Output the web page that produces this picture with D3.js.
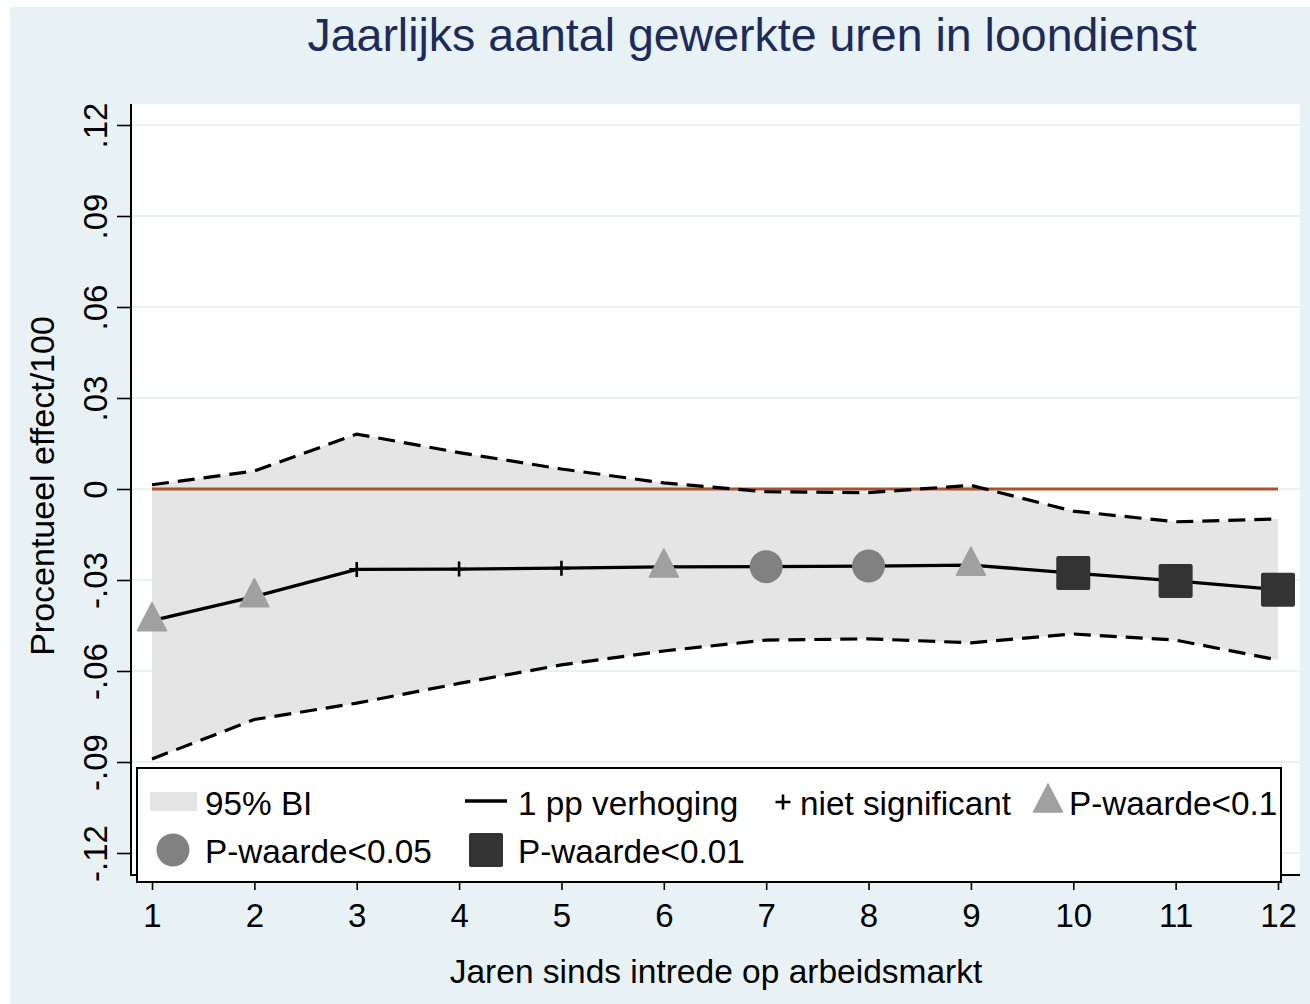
<!DOCTYPE html>
<html>
<head>
<meta charset="utf-8">
<script src="https://cdn.jsdelivr.net/npm/d3@7"></script>
<style>
  body { margin: 0; background: #ffffff; }
  svg { display: block; font-family: "Liberation Sans", Arial, sans-serif; }
</style>
</head>
<body>
<svg id="chart" width="1310" height="1004"></svg>
<script>
// years since entering the labour market
var years = [1, 2, 3, 4, 5, 6, 7, 8, 9, 10, 11, 12]
// point estimate of 1 pp increase
var estimate = [-0.0434, -0.0355, -0.0265, -0.0264, -0.0261, -0.0257, -0.0256, -0.0254, -0.0251, -0.0277, -0.0303, -0.0332]
// 95% confidence band
var upper = [0.0014, 0.0059, 0.0181, 0.0120, 0.0066, 0.0020, -0.0009, -0.0012, 0.0012, -0.0073, -0.0108, -0.0099]
var lower = [-0.0890, -0.0760, -0.0706, -0.0641, -0.0580, -0.0534, -0.0498, -0.0494, -0.0507, -0.0478, -0.0498, -0.0564]
// significance class of each estimate
var significance = ["p10", "p10", "ns", "ns", "ns", "p10", "p05", "p05", "p10", "p01", "p01", "p01"]
var yTicks = [-0.12, -0.09, -0.06, -0.03, 0, 0.03, 0.06, 0.09, 0.12]

var svg = d3.select("#chart")
var plot = { left: 131, right: 1300, top: 104, bottom: 875 }

var bg = "#e8f1f3"
var bandColor = "#e5e5e5"
var triColor = "#a0a0a0"
var circColor = "#818181"
var sqColor = "#333333"

//graph region
svg.append("rect").attr("x", 10).attr("y", 7).attr("width", 1300).attr("height", 997).attr("fill", bg)
svg.append("rect")
    .attr("x", plot.left).attr("y", plot.top)
    .attr("width", plot.right - plot.left).attr("height", plot.bottom - plot.top)
    .attr("fill", "#ffffff")

var x = d3.scaleLinear().domain([1, 12]).range([152, 1278])
var y = d3.scaleLinear().domain([-0.12, 0.12]).range([853, 125])

var rows = years.map(function(d, i) {
    return { year: d, est: estimate[i], hi: upper[i], lo: lower[i], sig: significance[i] }
})

//gridlines
svg.append("g")
    .selectAll("line")
    .data(yTicks)
    .enter().append("line")
    .attr("x1", plot.left).attr("x2", plot.right)
    .attr("y1", function(d) { return y(d) }).attr("y2", function(d) { return y(d) })
    .attr("stroke", bg).attr("stroke-width", 2)

//band
svg.append("path")
    .datum(rows)
    .attr("fill", bandColor)
    .attr("d", d3.area().x(function(d) { return x(d.year) }).y0(function(d) { return y(d.lo) }).y1(function(d) { return y(d.hi) }))

//zero line
svg.append("line")
    .attr("x1", x(1)).attr("x2", x(12))
    .attr("y1", y(0)).attr("y2", y(0))
    .attr("stroke", "#a9532d").attr("stroke-width", 3)

//dashed bounds
var bounds = [function(d) { return d.hi }, function(d) { return d.lo }]
bounds.forEach(function(f) {
    svg.append("path")
        .datum(rows)
        .attr("fill", "none")
        .attr("stroke", "#000")
        .attr("stroke-width", 3.2)
        .attr("stroke-dasharray", "17,9")
        .attr("d", d3.line().x(function(d) { return x(d.year) }).y(function(d) { return y(f(d)) }))
})

//estimate line
svg.append("path")
    .datum(rows)
    .attr("fill", "none")
    .attr("stroke", "#000")
    .attr("stroke-width", 3.3)
    .attr("d", d3.line().x(function(d) { return x(d.year) }).y(function(d) { return y(d.est) }))

//markers
function drawMarker(g, type, cx, cy) {
    if (type == "p10") {
        g.append("path")
            .attr("d", "M" + cx + "," + (cy - 18) + "L" + (cx - 14.5) + "," + (cy + 10) + "L" + (cx + 14.5) + "," + (cy + 10) + "Z")
            .attr("fill", triColor).attr("stroke", triColor).attr("stroke-width", 1.5).attr("stroke-linejoin", "round")
    } else if (type == "p05") {
        g.append("circle").attr("cx", cx).attr("cy", cy).attr("r", 16.5).attr("fill", circColor)
    } else if (type == "p01") {
        g.append("rect").attr("x", cx - 17).attr("y", cy - 17).attr("width", 34).attr("height", 34)
            .attr("rx", 2).attr("fill", sqColor)
    } else {
        g.append("path")
            .attr("d", "M" + (cx - 7.5) + "," + cy + "H" + (cx + 7.5) + "M" + cx + "," + (cy - 7.5) + "V" + (cy + 7.5))
            .attr("stroke", "#000").attr("stroke-width", 2.6)
    }
}
var markers = svg.append("g")
rows.forEach(function(d) { drawMarker(markers, d.sig, x(d.year), y(d.est)) })

//y axis, Stata style labels: .12, 0, -.03
function stataFormat(d) {
    if (d == 0) return "0"
    return (d < 0 ? "-" : "") + Math.abs(d).toFixed(2).replace(/^0/, "")
}
var yAxis = d3.axisLeft(y)
    .tickValues(yTicks)
    .tickSize(14)
    .tickFormat(stataFormat)
var yg = svg.append("g").attr("transform", "translate(" + plot.left + ",0)").call(yAxis)
yg.select(".domain").remove()
yg.selectAll(".tick line").attr("stroke", "#000").attr("stroke-width", 1.6)
yg.selectAll(".tick text")
    .attr("x", 0).attr("dy", null).attr("y", 0)
    .attr("text-anchor", "middle")
    .attr("transform", "translate(-24,0) rotate(-90)")
    .style("font-size", "33px").attr("fill", "#000")
svg.append("line").attr("x1", plot.left).attr("x2", plot.left).attr("y1", plot.top).attr("y2", plot.bottom + 1)
    .attr("stroke", "#000").attr("stroke-width", 2)

//x axis
var xAxis = d3.axisBottom(x).tickValues(years).tickSize(15).tickFormat(d3.format("d"))
var xg = svg.append("g").attr("transform", "translate(0," + plot.bottom + ")").call(xAxis)
xg.select(".domain").remove()
xg.selectAll(".tick line").attr("stroke", "#000").attr("stroke-width", 1.6)
xg.selectAll(".tick text").attr("y", 52).attr("dy", null).style("font-size", "33px").attr("fill", "#000")
svg.append("line").attr("x1", plot.left).attr("x2", plot.right).attr("y1", plot.bottom).attr("y2", plot.bottom)
    .attr("stroke", "#000").attr("stroke-width", 2)

//legend
var legend = svg.append("g").attr("class", "legend")
legend.append("rect")
    .attr("x", 137).attr("y", 768).attr("width", 1144).attr("height", 114)
    .attr("fill", "#fff").attr("stroke", "#000").attr("stroke-width", 2)
var row1 = 801, row2 = 850
legend.append("rect").attr("x", 150).attr("y", row1 - 9).attr("width", 47).attr("height", 19).attr("fill", bandColor)
legend.append("line").attr("x1", 465).attr("x2", 507).attr("y1", row1).attr("y2", row1).attr("stroke", "#000").attr("stroke-width", 3.3)
drawMarker(legend, "ns", 783, row1 + 1)
drawMarker(legend, "p10", 1048, row1 + 1)
drawMarker(legend, "p05", 173, row2)
drawMarker(legend, "p01", 486, row2)
var legendItems = [
    { label: "95% BI", x: 205, y: row1 + 14 },
    { label: "1 pp verhoging", x: 518, y: row1 + 14 },
    { label: "niet significant", x: 800, y: row1 + 14 },
    { label: "P-waarde<0.1", x: 1069, y: row1 + 14 },
    { label: "P-waarde<0.05", x: 205, y: row2 + 13 },
    { label: "P-waarde<0.01", x: 518, y: row2 + 13 }
]
legend.selectAll(".legendText")
    .data(legendItems)
    .enter().append("text")
    .attr("class", "legendText")
    .attr("x", function(d) { return d.x }).attr("y", function(d) { return d.y })
    .style("font-size", "33.3px")
    .text(function(d) { return d.label })

//titles
svg.append("text")
    .attr("x", 752).attr("y", 51)
    .attr("text-anchor", "middle")
    .attr("fill", "#1c2b5a")
    .style("font-size", "46.5px")
    .text("Jaarlijks aantal gewerkte uren in loondienst")
svg.append("text")
    .attr("x", 716).attr("y", 983)
    .attr("text-anchor", "middle")
    .style("font-size", "33.5px")
    .text("Jaren sinds intrede op arbeidsmarkt")
svg.append("text")
    .attr("transform", "translate(54," + 486 + ") rotate(-90)")
    .attr("text-anchor", "middle")
    .style("font-size", "34px")
    .text("Procentueel effect/100")
</script>
</body>
</html>
